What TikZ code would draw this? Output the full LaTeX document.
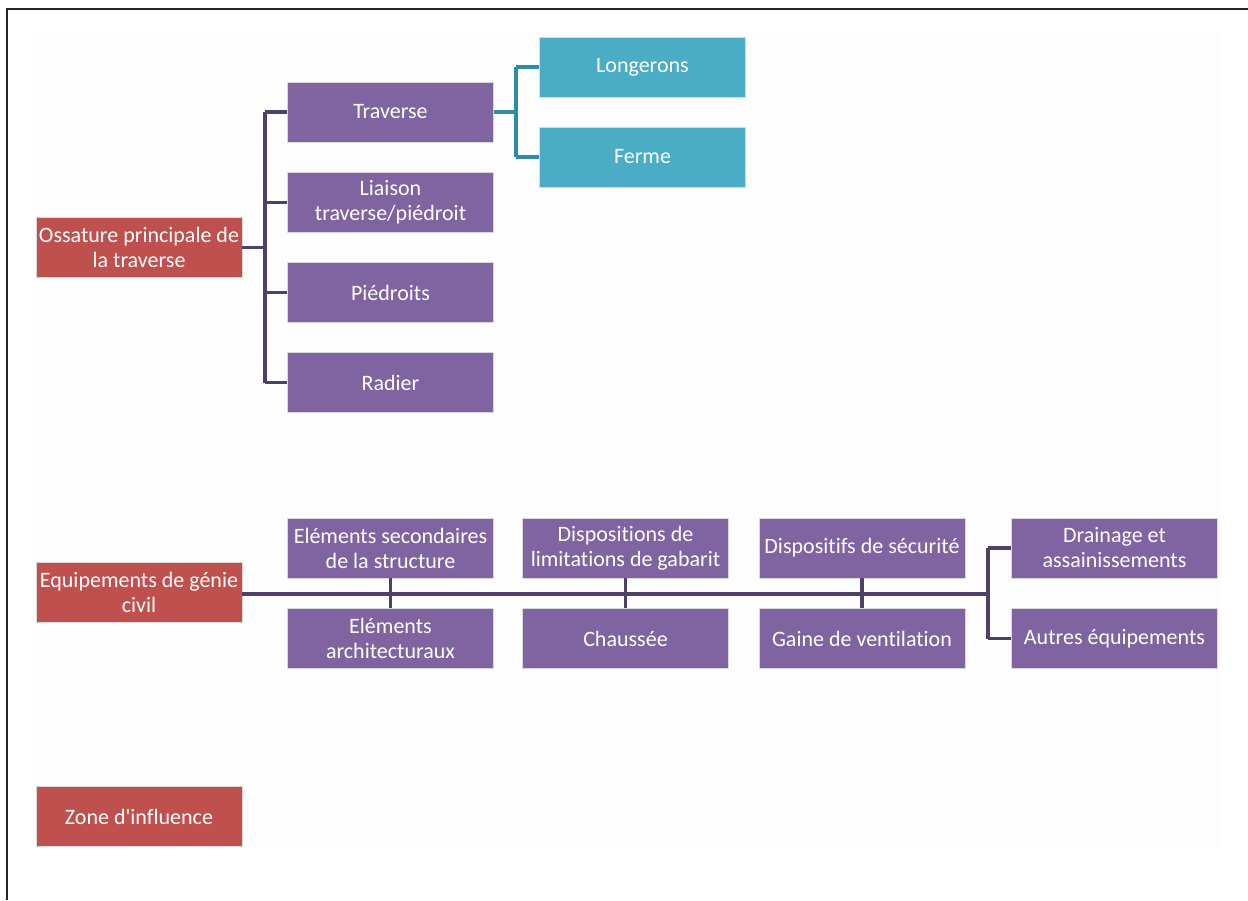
\documentclass[tikz,border=0pt]{standalone}
\usepackage{fontspec}
\setmainfont{Carlito}[RawFeature={-liga;-clig;-dlig;-calt}]
\definecolor{cpurple}{HTML}{8064A2}
\definecolor{cred}{HTML}{C0504D}
\definecolor{cteal}{HTML}{4BACC6}
\definecolor{lpurple}{HTML}{4F3F6B}
\definecolor{lteal}{HTML}{2E8BA8}
\definecolor{bgpale}{HTML}{FDFDFD}
\tikzset{
  box/.style={minimum width=206pt, minimum height=60pt, inner sep=0pt, align=center,
    text=white, font=\fontsize{22}{25}\selectfont, draw=white!85!black, line width=0.6pt},
  pbox/.style={box, fill=cpurple},
  rbox/.style={box, fill=cred},
  tbox/.style={box, fill=cteal},
  pline/.style={draw=lpurple, line width=3.2pt},
  tline/.style={draw=lteal, line width=3.2pt},
}
\begin{document}
\begin{tikzpicture}[x=1pt,y=-1pt]
\useasboundingbox (0,0) rectangle (1248,900);
\fill[bgpale] (31,33) rectangle (1220,849);
\draw[line width=2pt, black!85] (7,900) -- (7,9) -- (1248,9);

% group 1
\node[rbox] (oss) at (139,247.5) {Ossature principale de\\la traverse};
\node[pbox] (trav) at (390.5,112) {Traverse};
\node[pbox] (liai) at (390.5,202.5) {Liaison\\traverse/piédroit};
\node[pbox] (pied) at (390.5,292.5) {Piédroits};
\node[pbox] (rad) at (390.5,382.5) {Radier};
\node[tbox] (long) at (642.5,67) {Longerons};
\node[tbox] (ferm) at (642.5,157) {Ferme};

\coordinate (j1) at (265,247.5);
\draw[pline] (oss.east) -- (j1);
\draw[pline] (j1 |- trav.west) -- (j1 |- rad.west);
\draw[pline] (j1 |- trav.west) -- (trav.west);
\draw[pline] (j1 |- liai.west) -- (liai.west);
\draw[pline] (j1 |- pied.west) -- (pied.west);
\draw[pline] (j1 |- rad.west) -- (rad.west);

\coordinate (j3) at (516,112);
\draw[tline] (trav.east) -- (j3);
\draw[tline] (j3 |- long.west) -- (j3 |- ferm.west);
\draw[tline] (j3 |- long.west) -- (long.west);
\draw[tline] (j3 |- ferm.west) -- (ferm.west);

% group 2
\node[rbox] (equ) at (139,592.5) {Equipements de génie\\civil};
\node[pbox] (sec) at (390.5,548) {Eléments secondaires\\de la structure};
\node[pbox] (arch) at (390.5,638.5) {Eléments\\architecturaux};
\node[pbox] (disp) at (625.5,548) {Dispositions de\\limitations de gabarit};
\node[pbox] (chau) at (625.5,638.5) {Chaussée};
\node[pbox] (secu) at (862,548) {Dispositifs de sécurité};
\node[pbox] (gain) at (862,638.5) {Gaine de ventilation};
\node[pbox] (drai) at (1114.5,548) {Drainage et\\assainissements};
\node[pbox] (autr) at (1114.5,638.5) {Autres équipements};

\coordinate (j2) at (988,594);
\draw[pline] (equ.east |- j2) -- (j2);
\draw[pline] (sec.south) -- (arch.north);
\draw[pline] (disp.south) -- (chau.north);
\draw[pline] (secu.south) -- (gain.north);
\draw[pline] (j2 |- drai.west) -- (j2 |- autr.west);
\draw[pline] (j2 |- drai.west) -- (drai.west);
\draw[pline] (j2 |- autr.west) -- (autr.west);

% group 3
\node[rbox] (zone) at (139,816.5) {Zone d\textquotesingle influence};
\end{tikzpicture}
\end{document}
